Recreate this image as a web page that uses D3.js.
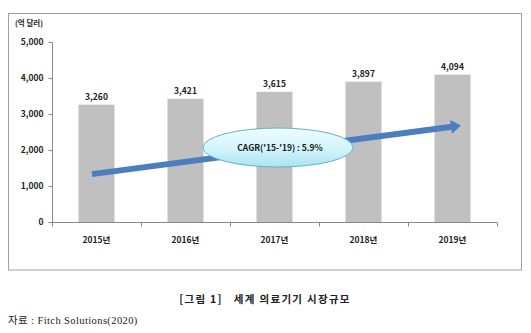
<!DOCTYPE html>
<html>
<head>
<meta charset="utf-8">
<script src="https://cdn.jsdelivr.net/npm/d3@7"></script>
<style>
  body { margin: 0; background: #fff; }
  svg { display: block; }
</style>
</head>
<body>
<svg id="chart" width="531" height="333"></svg>
<script>
const years = ["2015년", "2016년", "2017년", "2018년", "2019년"];
const values = [3260, 3421, 3615, 3897, 4094];
const yTicks = [0, 1000, 2000, 3000, 4000, 5000];
const unitLabel = "(억 달러)";
const cagrLabel = "CAGR('15-'19) : 5.9%";
const trendValues = [1330, 2680];
const captionText = "[그림 1]\u00a0\u00a0\u00a0세계 의료기기 시장규모";
const sourceText = "자료 : Fitch Solutions(2020)";

const svg = d3.select("#chart");
const font = "'Noto Sans CJK KR', 'Noto Sans', sans-serif";

// outer frame
svg.append("rect").attr("x", 8.5).attr("y", 13.5).attr("width", 513).attr("height", 256.5)
  .attr("fill", "#fff").attr("stroke", "#a0a0a0").attr("stroke-width", 1);

const xb = d3.scaleBand().domain(years).range([52, 497]);
const y = d3.scaleLinear().domain([0, 5000]).range([222, 42]);

// bars
svg.append("g").selectAll("rect").data(values).join("rect")
  .attr("x", (d, i) => xb(years[i]) + xb.bandwidth() / 2 - 18)
  .attr("width", 36)
  .attr("y", d => y(d))
  .attr("height", d => y(0) - y(d))
  .attr("fill", "#c0c0c0");

// value labels
svg.append("g").selectAll("text").data(values).join("text")
  .attr("x", (d, i) => xb(years[i]) + xb.bandwidth() / 2)
  .attr("y", d => y(d) - 5)
  .attr("text-anchor", "middle")
  .attr("font-family", font).attr("font-size", 8.5).attr("font-weight", "bold")
  .attr("fill", "#222")
  .text(d => d3.format(",")(d));

// y axis
const yAxis = d3.axisLeft(y).tickValues(yTicks).tickFormat(d3.format(",")).tickSize(4).tickPadding(5);
const gy = svg.append("g").attr("transform", "translate(52.5,0)").call(yAxis);
gy.select(".domain").attr("stroke", "#888").attr("d", "M-0,42.5V222.5");
gy.selectAll(".tick line").attr("stroke", "#888");
gy.selectAll("text").attr("font-family", font).attr("font-size", 8.5).attr("font-weight", "bold").attr("fill", "#222");

// x axis
const gx = svg.append("g").attr("transform", "translate(0,222.5)");
gx.append("line").attr("x1", 52).attr("x2", 497).attr("stroke", "#888");
const bounds = years.map(d => xb(d)).concat([xb(years[years.length - 1]) + xb.bandwidth()]);
gx.selectAll("line.t").data(bounds).join("line").attr("class", "t")
  .attr("x1", d => Math.round(d) + 0.5).attr("x2", d => Math.round(d) + 0.5)
  .attr("y1", 0).attr("y2", 4).attr("stroke", "#888");
gx.selectAll("text").data(years).join("text")
  .attr("x", d => xb(d) + xb.bandwidth() / 2)
  .attr("y", 20)
  .attr("text-anchor", "middle")
  .attr("font-family", font).attr("font-size", 8.5).attr("font-weight", "bold").attr("fill", "#222")
  .text(d => d);

// unit label
svg.append("text").attr("x", 15).attr("y", 26)
  .attr("font-family", font).attr("font-size", 7.5).attr("font-weight", "bold").attr("fill", "#222")
  .text(unitLabel);

// trend arrow
const bw = xb.bandwidth();
const x0 = xb(years[0]) + bw / 2 - 4.5;
const x1 = xb(years[4]) + bw / 2 + 8.5;
const y0 = y(trendValues[0]);
const y1 = y(trendValues[1]);
const ang = Math.atan2(y1 - y0, x1 - x0);
const headLen = 10, headW = 7;
const bx = x1 - headLen * Math.cos(ang), by = y1 - headLen * Math.sin(ang);
svg.append("line").attr("x1", x0).attr("y1", y0).attr("x2", bx + 1 * Math.cos(ang)).attr("y2", by + 1 * Math.sin(ang))
  .attr("stroke", "#4a7ebf").attr("stroke-width", 6);
const px = -Math.sin(ang), py = Math.cos(ang);
svg.append("path")
  .attr("d", `M${x1},${y1}L${bx + px * headW},${by + py * headW}L${bx - px * headW},${by - py * headW}Z`)
  .attr("fill", "#4a7ebf");

// ellipse callout
const defs = svg.append("defs");
const grad = defs.append("linearGradient").attr("id", "eg").attr("x1", 0).attr("y1", 0).attr("x2", 0).attr("y2", 1);
grad.append("stop").attr("offset", "0%").attr("stop-color", "#effdff");
grad.append("stop").attr("offset", "60%").attr("stop-color", "#cdf3fb");
grad.append("stop").attr("offset", "100%").attr("stop-color", "#a9e3f1");
const ex = xb(years[2]) + bw / 2 + 3.5;
const ey = y(2069);
svg.append("ellipse").attr("cx", ex).attr("cy", ey).attr("rx", 75).attr("ry", 19.5)
  .attr("fill", "url(#eg)").attr("stroke", "#62b3c8").attr("stroke-width", 1);
svg.append("text").attr("x", ex + 2).attr("y", ey + 3.5).attr("text-anchor", "middle")
  .attr("font-family", font).attr("font-size", 8.5).attr("font-weight", "bold").attr("fill", "#1a1a1a")
  .text(cagrLabel);

// caption
svg.append("text").attr("x", 265).attr("y", 303).attr("text-anchor", "middle")
  .attr("font-family", font).attr("font-size", 10.5).attr("font-weight", "bold").attr("fill", "#222")
  .attr("letter-spacing", 1.3)
  .text(captionText);

// source
svg.append("text").attr("x", 8).attr("y", 324)
  .attr("font-family", "'Liberation Serif', 'Noto Sans CJK KR', serif").attr("font-size", 10.5).attr("fill", "#222")
  .attr("letter-spacing", 0.4)
  .text(sourceText);
</script>
</body>
</html>
